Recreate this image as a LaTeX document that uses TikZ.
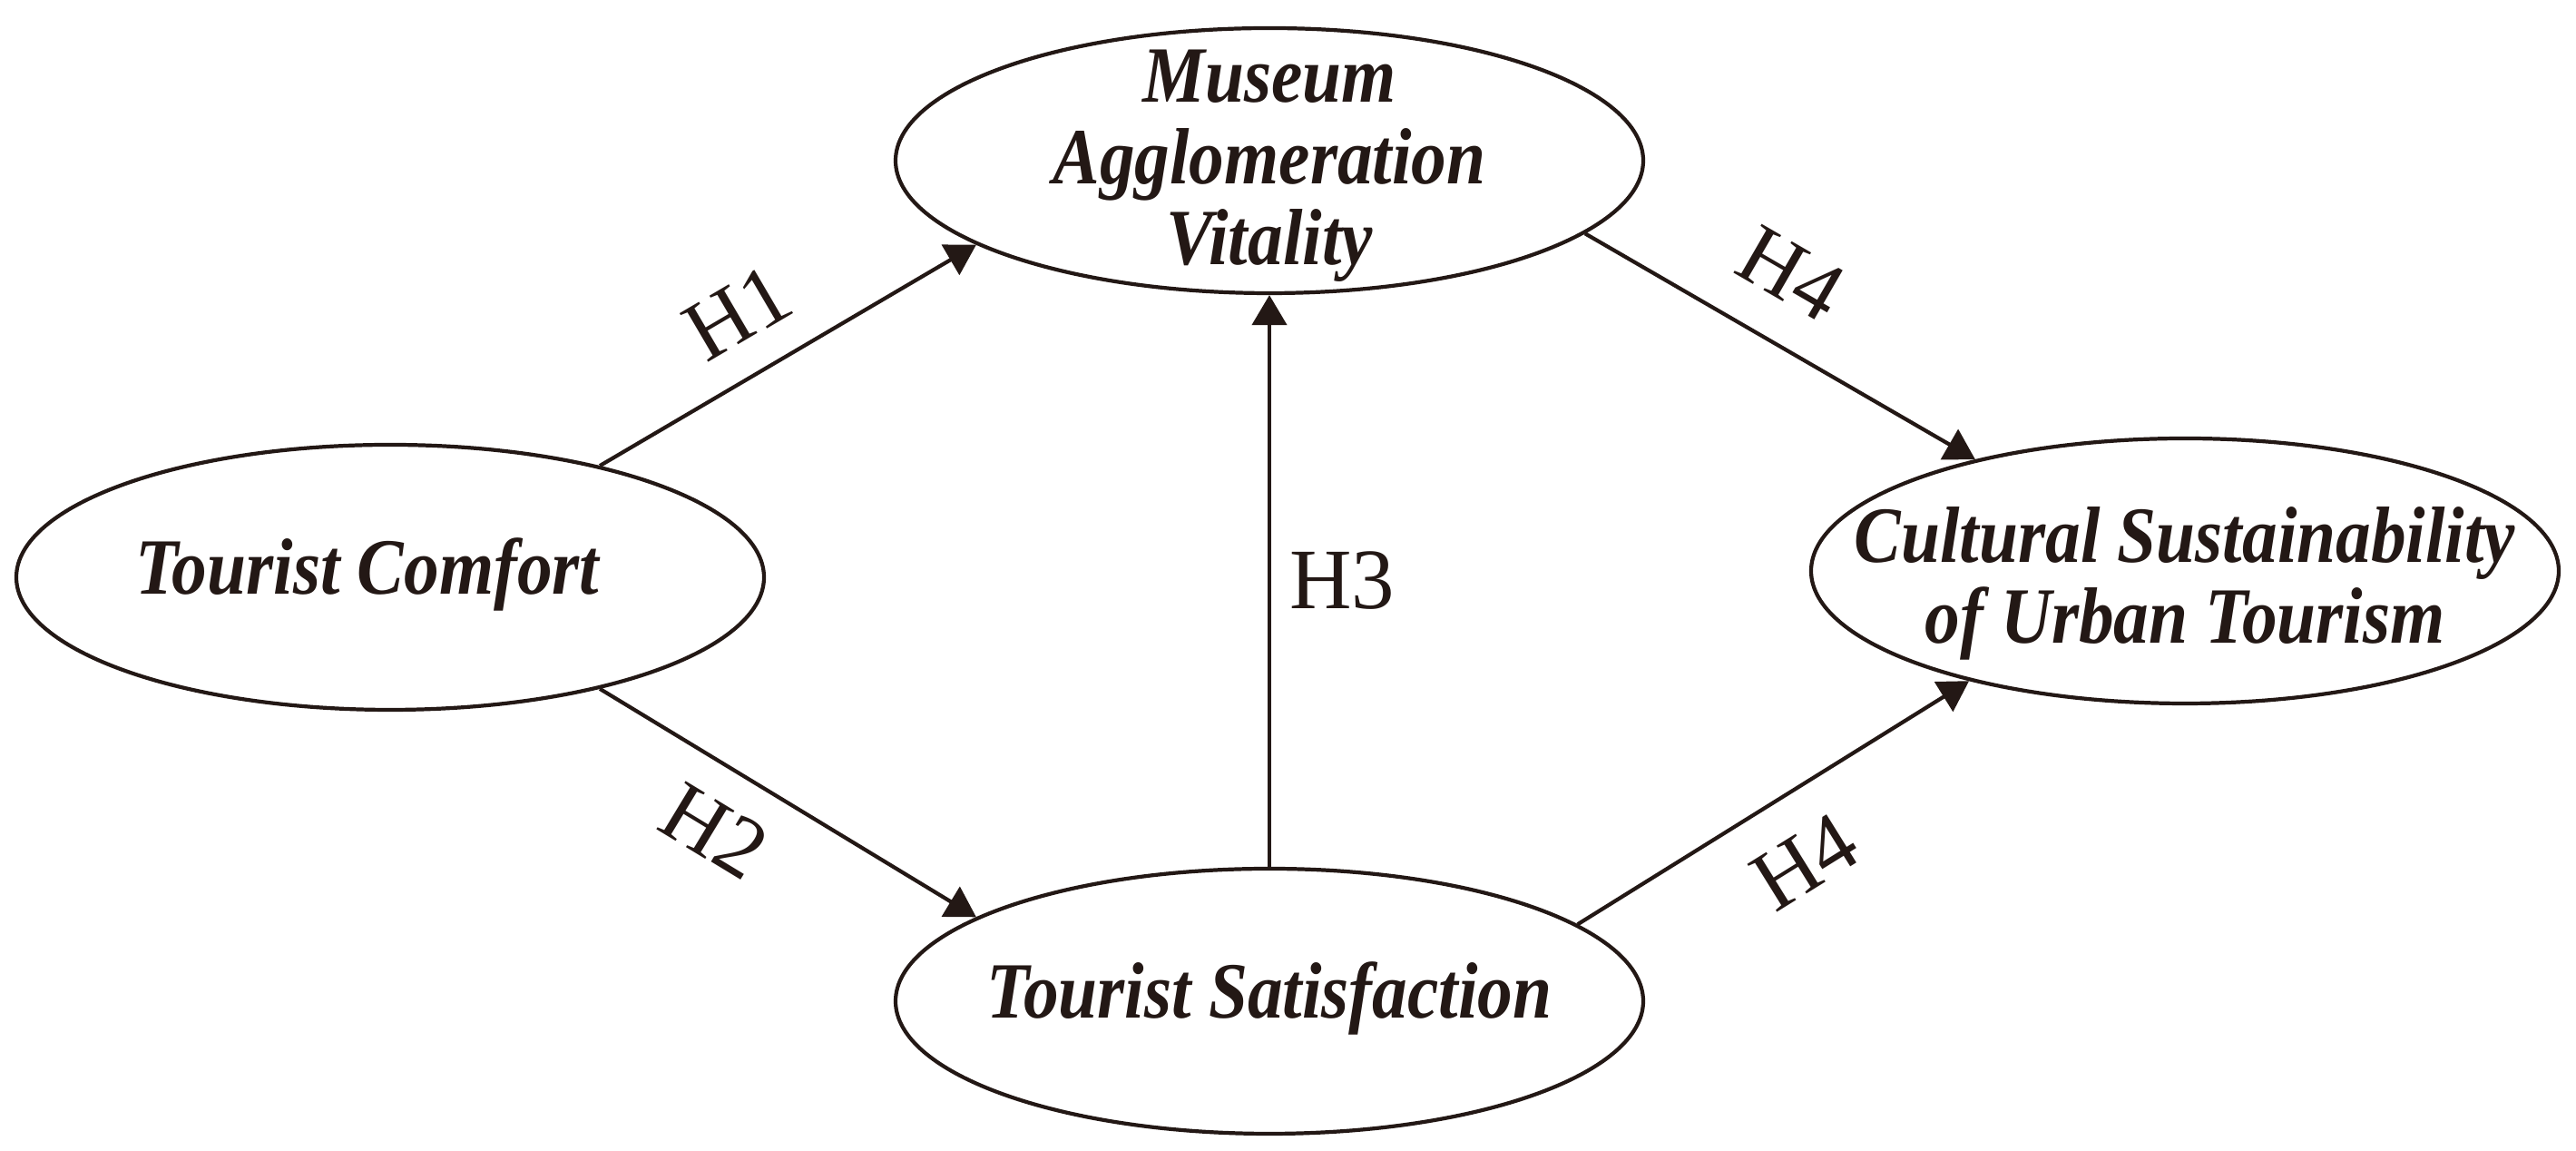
\documentclass[tikz,border=0pt]{standalone}
\usepackage{fontspec}
\setmainfont{Liberation Serif}
\newfontfamily\narrowfont{Liberation Serif}[FakeStretch=0.88]
\usepackage{xcolor}
\usetikzlibrary{shapes.geometric, arrows.meta, positioning}

\definecolor{ink}{HTML}{231815}
% text set in a box of no size, so the ellipse keeps its own size
\newcommand{\varname}[2][0pt]{\smash{\makebox[0pt]{\raisebox{\dimexpr-0.25em-#1\relax}{\begin{tabular}{@{}c@{}}#2\end{tabular}}}}}

\begin{document}
\begin{tikzpicture}[
  var/.style={ellipse, draw=ink, line width=1.2pt,
              minimum width=8.24cm, minimum height=2.92cm, inner sep=0pt,
              text=ink, font=\narrowfont\bfseries\itshape\fontsize{25}{25.5}\selectfont},
  arr/.style={-{Triangle[length=0.33cm,width=0.38cm]}, line width=1.2pt, ink},
  hyp/.style={font=\fontsize{27}{27}\selectfont, text=ink, inner sep=0pt}
]
  \useasboundingbox (0,0) rectangle (28.39,12.68);

  \node[var] (mav)  at (13.99,10.91) {\varname[2pt]{Museum\\Agglomeration\\Vitality}};
  \node[var] (tc)   at (4.30,6.32)   {\varname{Tourist Comfort\kern0.5cm}};
  \node[var] (csut) at (24.08,6.39)  {\varname[4.8pt]{Cultural Sustainability\\of Urban Tourism}};
  \node[var] (ts)   at (13.99,1.65)  {\varname{Tourist Satisfaction}};

  \draw[arr] (tc.28)   -- node[hyp, sloped, above=0.35cm, pos=0.45] {H1} (mav.196);
  \draw[arr] (tc.-28)  -- node[hyp, sloped, below=0.35cm, pos=0.39] {H2} (ts.164.5);
  \draw[arr] (ts.north) -- node[hyp, right=0.2cm] {H3} (mav.south);
  \draw[arr] (mav.-13.4) -- node[hyp, sloped, above=0.42cm, pos=0.44] {H4} (csut.152.8);
  \draw[arr] (ts.14.2) -- node[hyp, sloped, below=0.4cm, pos=0.49] {H4} (csut.207.6);
\end{tikzpicture}
\end{document}
